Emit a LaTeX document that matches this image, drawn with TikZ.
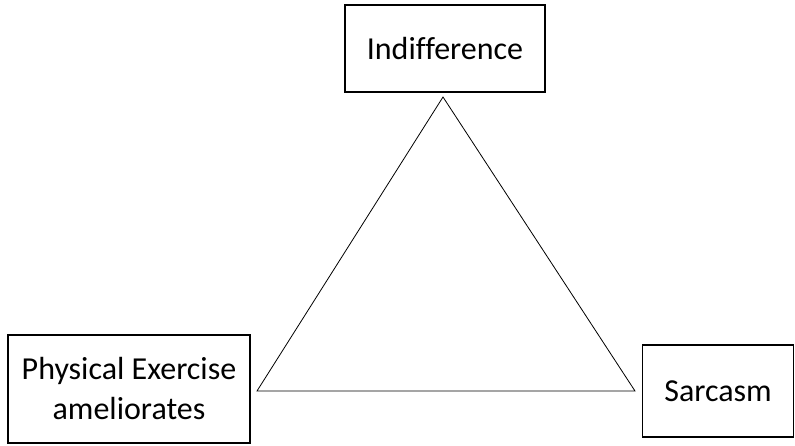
\documentclass[tikz,border=0pt]{standalone}
\usepackage{fontspec}
\setmainfont[Ligatures=NoCommon]{Carlito}
\begin{document}
\begin{tikzpicture}[x=1pt,y=-1pt,
  box/.style={draw, line width=1.4pt, inner sep=0pt, font=\fontsize{32}{40}\selectfont, align=center},
  tri/.style={draw, line width=0.8pt}]
\useasboundingbox (0,0) rectangle (795,446);
\node[box, minimum width=200, minimum height=87] (ind) at (445,48.5) {Indifference};
\node[box, minimum width=242, minimum height=108] (phy) at (129,389) {Physical Exercise\\ameliorates};
\node[box, minimum width=151, minimum height=92] (sar) at (718,391) {Sarcasm};
\coordinate (a) at (443,97);
\coordinate (b) at (257,391);
\coordinate (c) at (635,391);
\draw[tri] (a) -- (b) -- (c) -- cycle;
\end{tikzpicture}
\end{document}
